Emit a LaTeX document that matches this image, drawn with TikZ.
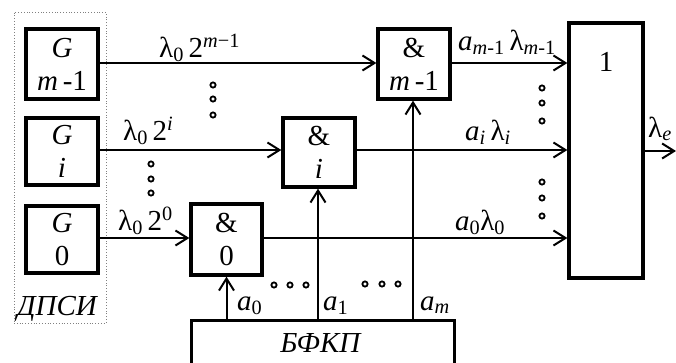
\documentclass[tikz,border=0pt]{standalone}
\usepackage{fontspec}
\setmainfont{Liberation Serif}
\usetikzlibrary{arrows.meta}
\newcommand\blkfont{\fontsize{29}{33}\selectfont}
\newcommand\labfont{\fontsize{29}{33}\selectfont}
\begin{document}
\begin{tikzpicture}[x=1pt,y=-1pt,
  blk/.style={draw,line width=3.3pt,inner sep=0pt,align=center,font=\blkfont},
  arr/.style={line width=2pt,-{Straight Barb[length=12pt,width=15pt,line width=2pt]}},
  ln/.style={line width=2pt},
  lab/.style={anchor=base west,inner sep=0pt,font=\labfont},
  dotc/.style={line width=1.8pt,fill=white}]
\useasboundingbox[fill=white] (0,0) rectangle (676,362);
% frame of generators
\node[draw=gray,dotted,line width=0.8pt,minimum width=92pt,minimum height=311pt,inner sep=0pt] (dps) at (60,167.5) {};
% generators
\node[blk,minimum width=72pt,minimum height=70pt] (g2) at (62,64) {\textit{G}\\\textit{m}\,-1};
\node[blk,minimum width=72pt,minimum height=67pt] (g1) at (62,151.5) {\textit{G}\\\textit{i}};
\node[blk,minimum width=72pt,minimum height=67pt] (g0) at (62,239.5) {\textit{G}\\0};
% AND gates
\node[blk,minimum width=71pt,minimum height=71pt] (c0) at (226.5,239.5) {\&\\0};
\node[blk,minimum width=72pt,minimum height=69pt] (ci) at (319,152.5) {\&\\\textit{i}};
\node[blk,minimum width=72pt,minimum height=70pt] (cm) at (414,64) {\&\\\textit{m}\,-1};
% OR
\node[blk,minimum width=74pt,minimum height=255pt] (or) at (606,150.5) {};
\node[font=\blkfont,anchor=base,inner sep=0pt] (one) at (606,71) {1};
% code former
\node[blk,minimum width=263pt,minimum height=60pt,anchor=north west] (bf) at (190,319) {};
\node[font=\blkfont,anchor=base,inner sep=0pt] (bft) at (321,352) {\textit{БФКП}};
% connectors
\draw[arr] (g2.east |- 0,63) coordinate (s2) -- (s2 -| cm.west);
\draw[arr] (g1.east |- 0,150) coordinate (s1) -- (s1 -| ci.west);
\draw[arr] (g0.east |- 0,238) coordinate (s0) -- (s0 -| c0.west);
\draw[arr] (cm.east |- s2) -- (s2 -| or.west);
\draw[arr] (ci.east |- s1) -- (s1 -| or.west);
\draw[arr] (c0.east |- s0) -- (s0 -| or.west);
\coordinate (out) at (676,151);
\draw[arr] (or.east |- out) -- (out);
\draw[arr] (bf.north -| c0) -- (c0.south);
\draw[arr] (bf.north -| 318,0) coordinate (b1) -- (b1 |- ci.south);
\draw[arr] (bf.north -| 413,0) coordinate (bm) -- (bm |- cm.south);
% labels
\node[lab] (l2) at (159,57) {λ\textsubscript{0}\,2\textsuperscript{\textit{m}−1}};
\node[lab] (l1) at (123,140) {λ\textsubscript{0}\,2\textsuperscript{\textit{i}}};
\node[lab] (l0) at (118,230) {λ\textsubscript{0}\,2\textsuperscript{0}};
\node[lab] (r2) at (458,50) {\textit{a}\textsubscript{\textit{m}-1}\,λ\textsubscript{\textit{m}-1}};
\node[lab] (r1) at (465,140) {\textit{a}\textsubscript{\textit{i}}\,λ\textsubscript{\textit{i}}};
\node[lab] (r0) at (455,230) {\textit{a}\textsubscript{0}λ\textsubscript{0}};
\node[lab] (lo) at (648,137) {λ\textsubscript{\textit{e}}};
\node[lab] (ta0) at (237,310) {\textit{a}\textsubscript{0}};
\node[lab] (ta1) at (323,310) {\textit{a}\textsubscript{1}};
\node[lab] (tam) at (420,310) {\textit{a}\textsubscript{\textit{m}}};
\node[lab] (tdp) at (17,315) {\textit{ДПСИ}};
% dots
\foreach \y in {85,99,115} \draw[dotc] (213,\y) circle (2.6pt);
\foreach \y in {164,179,193} \draw[dotc] (151,\y) circle (2.6pt);
\foreach \x in {274,290,306} \draw[dotc] (\x,285) circle (2.6pt);
\foreach \x in {365,382,398} \draw[dotc] (\x,284) circle (2.6pt);
\foreach \y in {88,103,121,182,198,216} \draw[dotc] (542,\y) circle (2.6pt);
\end{tikzpicture}
\end{document}
